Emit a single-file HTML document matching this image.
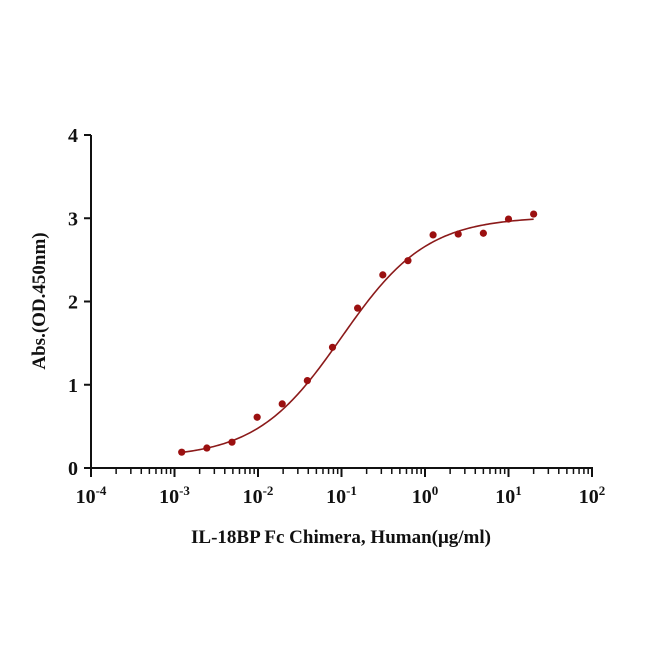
<!DOCTYPE html>
<html><head><meta charset="utf-8"><style>
body{margin:0;background:#fff;}
svg text{font-family:"Liberation Serif",serif;font-weight:bold;fill:#111;}
</style></head><body>
<svg id="chart" width="662" height="662" viewBox="0 0 662 662" xmlns="http://www.w3.org/2000/svg">
<g id="axes"></g>
<path id="curve" fill="none" stroke="#8b1a1a" stroke-width="1.6"/>
<g id="pts"></g>
<text transform="translate(45,301) rotate(-90)" text-anchor="middle" font-size="19">Abs.(OD.450nm)</text>
<text x="341" y="543" text-anchor="middle" font-size="19">IL-18BP Fc Chimera, Human(μg/ml)</text>
</svg>
<script>
const concentrations=[0.00122,0.00244,0.00488,0.00977,0.0195,0.039,0.078,0.156,0.3125,0.625,1.25,2.5,5,10,20];
const absorbance=[0.19,0.24,0.31,0.61,0.77,1.05,1.45,1.92,2.32,2.49,2.80,2.81,2.82,2.99,3.05];
const yTicks=[0,1,2,3,4];
const xDecades=[-4,-3,-2,-1,0,1,2];
const fitBottom=0.12, fitTop=3.02, fitEC50=0.1, fitHill=0.85;
const NS="http://www.w3.org/2000/svg";
const X0=91,X1=592,Y0=468,Y1=135;
function xs(v){return X0+(Math.log10(v)+4)/6*(X1-X0);}
function ys(v){return Y0-v/4*(Y0-Y1);}
function mk(t,a,p){const e=document.createElementNS(NS,t);for(const k in a)e.setAttribute(k,a[k]);(p||document.getElementById('axes')).appendChild(e);return e;}
let e=mk('line',{x1:X0,y1:Y0,x2:X1+1,y2:Y0,stroke:'#111','stroke-width':2});


e=mk('line',{x1:X0,y1:Y0+1,x2:X0,y2:Y1,stroke:'#111','stroke-width':2});


yTicks.forEach(v=>{
 const y=ys(v);
 let t=mk('line',{x1:X0-7,y1:y,x2:X0,y2:y,stroke:'#111','stroke-width':2});
 
 
 let l=mk('text',{x:X0-13,y:y+7,'text-anchor':'end','font-size':20});
 l.textContent=v;
 
 
});
xDecades.forEach((d,i)=>{
 const x=xs(Math.pow(10,d));
 let t=mk('line',{x1:x,y1:Y0,x2:x,y2:Y0+9,stroke:'#111','stroke-width':2});
 
 
 let l=mk('text',{x:x,y:Y0+35,'text-anchor':'middle','font-size':20});
 l.innerHTML='10<tspan dy="-8" font-size="13">'+(d<0?'-'+(-d):d)+'</tspan>';
 
 
 if(i<xDecades.length-1){for(let m=2;m<=9;m++){
  const mx=xs(m*Math.pow(10,d));
  let mt=mk('line',{x1:mx,y1:Y0,x2:mx,y2:Y0+6,stroke:'#111','stroke-width':1.5});
  
  
 }}
});
let d='';
const lo=Math.log10(concentrations[0]),hi=Math.log10(concentrations[concentrations.length-1]);
for(let i=0;i<=200;i++){const lx=lo+(hi-lo)*i/200,c=Math.pow(10,lx);
 const v=fitBottom+(fitTop-fitBottom)/(1+Math.pow(fitEC50/c,fitHill));
 d+=(i?'L':'M')+xs(c).toFixed(2)+','+ys(v).toFixed(2);}
document.getElementById('curve').setAttribute('d',d);
const pg=document.getElementById('pts');
concentrations.forEach((c,i)=>{
 const p=mk('circle',{cx:xs(c),cy:ys(absorbance[i]),r:3.6,fill:'#9b1010'},pg);
 
 
});
</script>
</body></html>
